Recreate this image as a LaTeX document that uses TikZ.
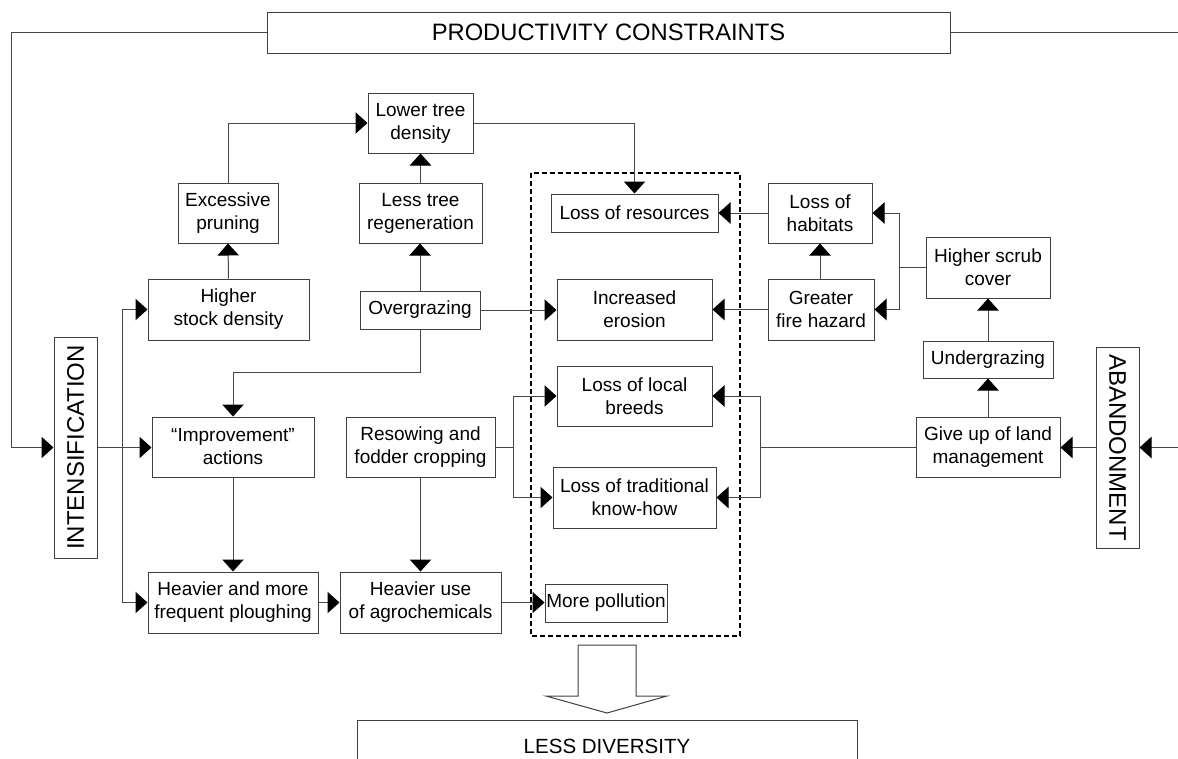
\documentclass[tikz,border=0pt]{standalone}
\usepackage{fontspec}
\setmainfont{Liberation Sans}
\usepackage{graphicx}
\usetikzlibrary{arrows.meta}
\newcommand\lblfont{\fontsize{14.25pt}{17.25pt}\selectfont}
\newcommand\prodfont{\fontsize{17.8pt}{20pt}\selectfont}
\newcommand\lessfont{\fontsize{15.4pt}{18pt}\selectfont}
\newcommand\sidefont{\fontsize{18pt}{20pt}\selectfont}
\tikzset{
  box/.style={draw=black!75, line width=0.75pt, inner sep=0pt, align=center, font=\lblfont, fill=white},
  sz/.style 2 args={minimum width=#1*0.75pt, minimum height=#2*0.75pt},
  ln/.style={draw=black!72, line width=0.75pt},
  arr/.style={ln, -{Triangle[length=9pt,width=16pt,color=black]}},
  dashbox/.style={draw=black, line width=1.3pt, dash pattern=on 3.5pt off 2.5pt},
  hollow/.style={draw=black!75, line width=0.75pt, fill=white},
}
\begin{document}
\begin{tikzpicture}[x=0.75pt,y=-0.75pt]
\useasboundingbox (0,0) rectangle (1178,758);
\clip (0,0) rectangle (1178,758);
% dashed group
\draw[dashbox] (531,173) rectangle (740,636);
% nodes
\node[box, sz={683}{41}, font=\prodfont] (prod) at (608.5,32.5) {PRODUCTIVITY CONSTRAINTS};
\node[box, sz={43}{221}] (intens) at (75.5,447.5) {\sidefont\rotatebox{90}{INTENSIFICATION}};
\node[box, sz={43}{201}] (abandon) at (1117.5,447.5) {\sidefont\rotatebox{-90}{ABANDONMENT}};
\node[box, sz={105}{60}] (lowtree) at (420.5,123) {Lower tree\\density};
\node[box, sz={100}{60}] (exprun) at (228,213) {Excessive\\pruning};
\node[box, sz={123}{60}] (lesstree) at (420.5,213) {Less tree\\regeneration};
\node[box, sz={161}{61}] (hstock) at (228.5,309.5) {Higher\\stock density};
\node[box, sz={120}{38}] (overgraz) at (420,310) {Overgrazing};
\node[box, sz={167}{38}] (lossres) at (634.5,213) {Loss of resources};
\node[box, sz={155}{61}] (eros) at (634.5,309.5) {Increased\\erosion};
\node[box, sz={155}{60}] (breeds) at (634.5,396) {Loss of local\\breeds};
\node[box, sz={163}{61}] (knowhow) at (634.5,497.5) {Loss of traditional\\know-how};
\node[box, sz={122}{38}] (pollution) at (606,603) {More pollution};
\node[box, sz={162}{60}] (improve) at (233,447) {“Improvement”\\actions};
\node[box, sz={149}{60}] (resow) at (420.5,447) {Resowing and\\fodder cropping};
\node[box, sz={170}{61}] (plough) at (233,602.5) {Heavier and more\\frequent ploughing};
\node[box, sz={161}{61}] (agro) at (420.5,602.5) {Heavier use\\of agrochemicals};
\node[box, sz={104}{60}] (habitats) at (820,213) {Loss of\\habitats};
\node[box, sz={106}{61}] (fire) at (821,309.5) {Greater\\fire hazard};
\node[box, sz={124}{61}] (scrub) at (988,267.5) {Higher scrub\\cover};
\node[box, sz={130}{37}] (undergr) at (988,359.5) {Undergrazing};
\node[box, sz={144}{60}] (giveup) at (988,447) {Give up of land\\management};
\node[box, sz={500}{52}, font=\lessfont] (less) at (607,746) {LESS DIVERSITY};
% junction coordinates
\coordinate (tl) at (11,32.5);
\coordinate (tr) at (1178,32.5);
\coordinate (rr) at (1178,447.5);
\coordinate (jl) at (122,447.5);
\coordinate (jr1) at (513,447);
\coordinate (jr2) at (760,447);
\coordinate (js) at (899,267.5);
% connectors
\draw[arr] (prod.west) -- (tl) |- (intens.west);
\draw[ln] (prod.east) -- (tr);
\draw[arr] (rr) -- (abandon.east);
\draw[arr] (abandon.west) -- (abandon.west -| giveup.east);
\draw[arr] (intens.east) -- (intens.east -| improve.west);
\draw[arr] (jl) |- (hstock.west);
\draw[arr] (jl) |- (plough.west);
\draw[arr] (hstock.north) -- (exprun.south);
\draw[arr] (exprun.north) |- (lowtree.west);
\draw[arr] (lesstree.north) -- (lowtree.south);
\draw[arr] (overgraz.north) -- (overgraz.north |- lesstree.south);
\draw[arr] (lowtree.east) -| (lossres.north);
\draw[arr] (overgraz.east) -- (overgraz.east -| eros.west);
\draw[arr] (overgraz.south) -- ++(0,43) -| (improve.north);
\draw[arr] (improve.south) -- (plough.north);
\draw[arr] (resow.south) -- (agro.north);
\draw[arr] (plough.east) -- (agro.west);
\draw[arr] (agro.east) -- (agro.east -| pollution.west);
\draw[ln] (resow.east) -- (jr1);
\draw[arr] (jr1) |- (breeds.west);
\draw[arr] (jr1) |- (knowhow.west);
\draw[ln] (giveup.west) -- (jr2);
\draw[arr] (jr2) |- (breeds.east);
\draw[arr] (jr2) |- (knowhow.east);
\draw[arr] (habitats.west) -- (habitats.west -| lossres.east);
\draw[arr] (fire.west) -- (fire.west -| eros.east);
\draw[arr] (fire.north -| habitats.south) -- (habitats.south);
\draw[ln] (scrub.west) -- (js);
\draw[arr] (js) |- (habitats.east);
\draw[arr] (js) |- (fire.east);
\draw[arr] (undergr.north) -- (scrub.south);
\draw[arr] (giveup.north) -- (undergr.south);
% big hollow arrow
\draw[hollow] (578,645) -- (636,645) -- (636,696) -- (667,696) -- (607,713) -- (546,696) -- (578,696) -- cycle;
\end{tikzpicture}
\end{document}
